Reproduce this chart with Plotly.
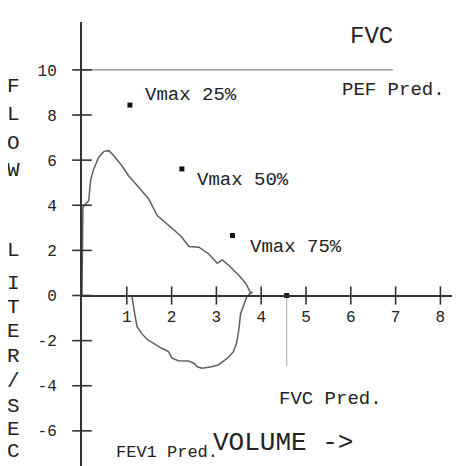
import plotly.graph_objects as go

# ---------------- data ----------------
vol_exp = [0.00, 0.02, 0.08, 0.15, 0.19, 0.26, 0.37, 0.49, 0.60, 0.71, 0.89, 1.04,
           1.27, 1.49, 1.68, 1.94, 2.20, 2.39, 2.61, 2.83, 3.02, 3.13, 3.28, 3.51,
           3.58, 3.66, 3.77, 3.80]
flow_exp = [0.00, 3.90, 4.06, 4.20, 5.09, 5.60, 6.12, 6.39, 6.42, 6.19, 5.75, 5.31,
            4.79, 4.28, 3.54, 3.10, 2.65, 2.17, 2.14, 1.84, 1.43, 1.58, 1.33, 0.88,
            0.69, 0.52, 0.08, 0.17]
vol_insp = [3.80, 3.68, 3.60, 3.54, 3.50, 3.45, 3.38, 3.27, 3.13, 3.04, 2.89, 2.68,
            2.57, 2.50, 2.37, 2.15, 2.01, 1.93, 1.78, 1.59, 1.45, 1.33, 1.23, 1.18,
            1.13, 1.11]
flow_insp = [0.17, -0.05, -0.50, -0.81, -1.53, -2.12, -2.49, -2.74, -2.95, -3.08,
             -3.16, -3.22, -3.16, -3.00, -2.90, -2.89, -2.78, -2.49, -2.34, -2.12,
             -1.94, -1.68, -1.38, -0.86, -0.35, 0.02]

vmax_labels = ["Vmax 25%", "Vmax 50%", "Vmax 75%"]
vmax_vol = [1.07, 2.23, 3.36]
vmax_flow = [8.44, 5.61, 2.66]

pef_pred = 10.0
pef_line_end = 6.94
fvc_pred = 4.57
fvc_pred_line_low = -3.13

x_ticks = [1, 2, 3, 4, 5, 6, 7, 8]
x_tick_labels = ["1", "2", "3", "4", "5", "6", "7", "8"]
y_ticks = [-6, -4, -2, 0, 2, 4, 6, 8, 10]
y_tick_labels = ["-6", "-4", "-2", "0", "2", "4", "6", "8", "10"]

# ---------------- geometry ----------------
W, H = 460, 466
OFF = 8                      # page body margin
PL, PT, PR, PB = 82, 22, 452, 466   # plot area in window pixels
PX_X = 44.8    # pixels per litre
PX_Y = 22.56   # pixels per l/s
ZERO_Y_PX = 295.5
x_max = (PR - PL) / PX_X
y_max = (ZERO_Y_PX - PT) / PX_Y
y_min = -(PB - ZERO_Y_PX) / PX_Y
x_axis_pos = (0 - y_min) / (y_max - y_min)

ML = PL - OFF
MT = PT - OFF
MR = W - ML - (PR - PL)
MB = H - MT - (PB - PT)


def xp(px):
    return (px - PL) / (PR - PL)


def yp(py):
    return (PB - py) / (PB - PT)


FONT = "Liberation Mono, Courier New, monospace"
AX = "#333333"
TXT = "#222222"

fig = go.Figure()

# flow-volume loop
fig.add_trace(go.Scatter(x=vol_exp + vol_insp[1:], y=flow_exp + flow_insp[1:],
                         mode="lines", line=dict(color="#5e5e5e", width=1.5),
                         hoverinfo="skip"))
# PEF predicted line
fig.add_trace(go.Scatter(x=[0, pef_line_end], y=[pef_pred, pef_pred], mode="lines",
                         line=dict(color="#8a8a8a", width=1.3), hoverinfo="skip"))
# FVC predicted line and dot
fig.add_trace(go.Scatter(x=[fvc_pred, fvc_pred], y=[0, fvc_pred_line_low], mode="lines",
                         line=dict(color="#aaaaaa", width=1), hoverinfo="skip"))
fig.add_trace(go.Scatter(x=[fvc_pred], y=[0], mode="markers",
                         marker=dict(symbol="square", size=5, color="#111"),
                         cliponaxis=False, hoverinfo="skip"))
# Vmax points
fig.add_trace(go.Scatter(x=vmax_vol, y=vmax_flow, mode="markers",
                         marker=dict(symbol="square", size=5, color="#111"),
                         hoverinfo="skip"))
# crossing tick marks
fig.add_trace(go.Scatter(x=[0] * len(y_ticks), y=y_ticks, mode="markers",
                         marker=dict(symbol="line-ew", size=14,
                                     line=dict(color=AX, width=1.6)),
                         cliponaxis=False, hoverinfo="skip"))
fig.add_trace(go.Scatter(x=x_ticks, y=[0] * len(x_ticks), mode="markers",
                         marker=dict(symbol="line-ns", size=13,
                                     line=dict(color=AX, width=1.6)),
                         cliponaxis=False, hoverinfo="skip"))

annotations = []


def add_text(text, px, py, size, anchor="left"):
    annotations.append(dict(text=text, x=xp(px), y=yp(py), xref="paper", yref="paper",
                            xanchor=anchor, yanchor="middle", showarrow=False,
                            font=dict(family=FONT, size=size, color=TXT)))


# Vmax labels (left edge, vertical centre in window pixels)
for lab, (px, py) in zip(vmax_labels, [(143, 95), (195, 180), (248, 247)]):
    add_text(lab, px, py, 19)

add_text("FVC", 348, 36, 24)
add_text("PEF Pred.", 340, 90, 19)
add_text("FVC Pred.", 277, 399, 19)
add_text("VOLUME ->", 211, 443, 26)
add_text("FEV1 Pred.", 114, 452, 17)

for ch, py in zip("FLOW", [87, 114, 143, 170]):
    add_text(ch, 13, py, 21, anchor="center")
for ch, py in zip("LITER/SEC", [251, 283, 307, 331, 356, 382, 406, 429, 451]):
    add_text(ch, 13, py, 21, anchor="center")

fig.update_layout(
    width=W, height=H,
    margin=dict(l=ML, r=MR, t=MT, b=MB),
    paper_bgcolor="white", plot_bgcolor="white",
    showlegend=False,
    annotations=annotations,
    xaxis=dict(range=[0, x_max], showgrid=False, zeroline=False,
               showline=True, linewidth=2, linecolor=AX,
               anchor="free", position=x_axis_pos,
               tickvals=x_ticks, ticktext=x_tick_labels, ticks="",
               ticklabelstandoff=6,
               tickfont=dict(family=FONT, size=16, color=TXT)),
    yaxis=dict(range=[y_min, y_max], showgrid=False, zeroline=False,
               showline=True, linewidth=2, linecolor=AX,
               tickvals=y_ticks, ticktext=y_tick_labels, ticks="",
               ticklabelstandoff=20,
               tickfont=dict(family=FONT, size=16, color=TXT)),
)

fig.write_html("out.html")
